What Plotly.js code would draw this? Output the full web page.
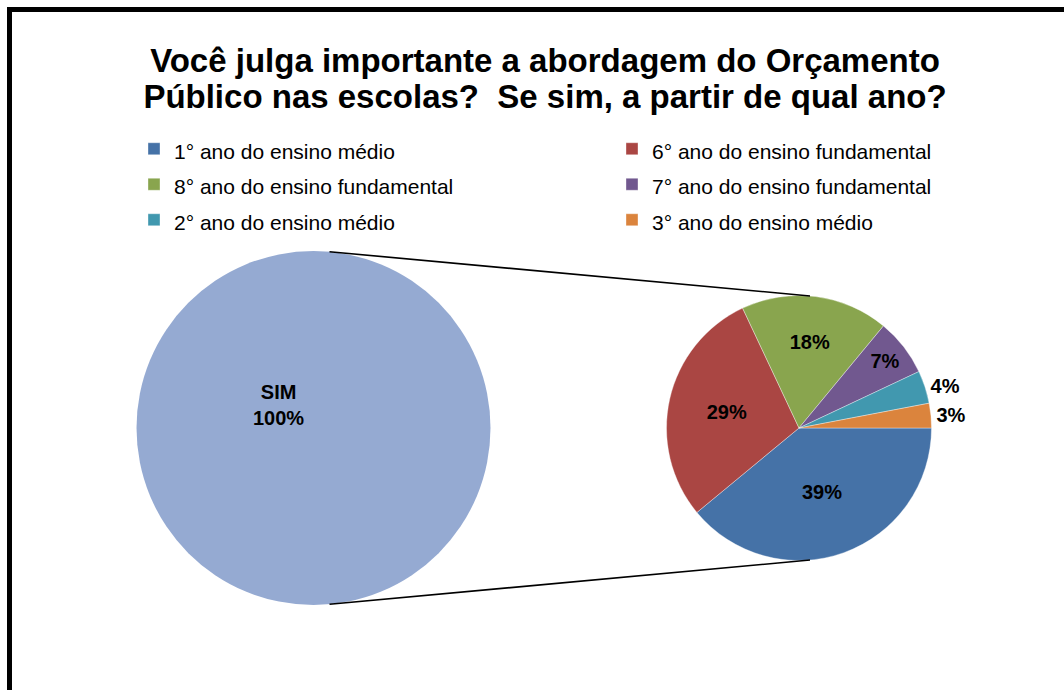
<!DOCTYPE html>
<html>
<head>
<meta charset="utf-8">
<script src="https://cdn.plot.ly/plotly-3.0.1.min.js"></script>
<style>html,body{margin:0;padding:0;background:#fff;}#chart{width:1064px;height:690px;}</style>
</head>
<body>
<div id="chart"></div>
<script>
// ---- data ----
const bigLabels = ['SIM'];
const bigValues = [100];
const bigColors = ['#95AAD2'];

const categories = [
  '1° ano do ensino médio',
  '6° ano do ensino fundamental',
  '8° ano do ensino fundamental',
  '7° ano do ensino fundamental',
  '2° ano do ensino médio',
  '3° ano do ensino médio'
];
const percentValues = [39, 29, 18, 7, 4, 3];
const sliceColors = ['#4572A7', '#AA4643', '#89A54E', '#71588F', '#4198AF', '#DB843D'];
const labelPositions = ['inside', 'inside', 'inside', 'inside', 'outside', 'outside'];

const titleLines = ['Você julga importante a abordagem do Orçamento', 'Público nas escolas?  Se sim, a partir de qual ano?'];

// ---- layout geometry (pixels) ----
const W = 1064, H = 690;
const FONT = 'Liberation Sans, Arial, sans-serif';
const big = {cx: 313.5, cy: 428, r: 177};
const small = {cx: 799, cy: 428, r: 132.5};
const px = x => x / W;
const py = y => 1 - y / H;

const bigTrace = {
  type: 'pie',
  labels: bigLabels,
  values: bigValues,
  marker: {colors: bigColors, line: {width: 0}},
  textinfo: 'none',
  hoverinfo: 'label+percent',
  showlegend: false,
  sort: false,
  domain: {x: [px(big.cx - big.r), px(big.cx + big.r)], y: [py(big.cy + big.r), py(big.cy - big.r)]}
};

const smallTrace = {
  type: 'pie',
  labels: categories.map(c => '<span style="font-size:21px">' + c + '</span>'),
  values: percentValues,
  marker: {colors: sliceColors, line: {width: 0.6, color: 'rgba(255,255,255,0.6)'}},
  sort: false,
  direction: 'clockwise',
  rotation: 90,
  textinfo: 'percent',
  textposition: labelPositions,
  insidetextorientation: 'horizontal',
  textfont: {family: FONT, size: 20, color: '#000', weight: 'bold'},
  insidetextfont: {family: FONT, size: 20, color: '#000', weight: 'bold'},
  outsidetextfont: {family: FONT, size: 20, color: '#000', weight: 'bold'},
  hoverinfo: 'label+percent',
  domain: {x: [px(small.cx - 200), px(small.cx + 200)], y: [py(small.cy + small.r), py(small.cy - small.r)]}
};

// connector lines between the two pies
const joinX = small.cx + 11;
const joinDy = Math.sqrt(small.r * small.r - 11 * 11);
const bigJoinX = big.cx + 16;
const bigJoinDy = Math.sqrt(big.r * big.r - 16 * 16);
const shapes = [
  {type: 'line', xref: 'paper', yref: 'paper',
   x0: px(bigJoinX), y0: py(big.cy - bigJoinDy), x1: px(joinX), y1: py(small.cy - joinDy),
   line: {color: '#000', width: 1.6}},
  {type: 'line', xref: 'paper', yref: 'paper',
   x0: px(bigJoinX), y0: py(big.cy + bigJoinDy), x1: px(joinX), y1: py(small.cy + joinDy),
   line: {color: '#000', width: 1.6}},
  {type: 'rect', xref: 'paper', yref: 'paper',
   x0: px(9.5), y0: py(9.5), x1: px(W + 20), y1: py(H + 20),
   line: {color: '#000', width: 5}, fillcolor: 'rgba(0,0,0,0)', layer: 'above'}
];

const annotations = [{
  xref: 'paper', yref: 'paper', x: px(278), y: py(405), xanchor: 'center', yanchor: 'middle',
  text: '<b>' + bigLabels[0] + '<br>' + bigValues[0] + '%</b>',
  showarrow: false, font: {family: FONT, size: 20, color: '#000'}, align: 'center'
}];

const layout = {
  width: W, height: H,
  margin: {l: 0, r: 0, t: 0, b: 0, autoexpand: false},
  paper_bgcolor: '#fff',
  font: {family: FONT, color: '#000'},
  title: {
    text: titleLines.map(t => '<span style="font-size:33px">' + t + '</span>').join('<br>'),
    x: px(545), xanchor: 'center', xref: 'paper',
    y: 1 - 72 / H, yanchor: 'middle', yref: 'container',
    font: {family: FONT, size: 28, color: '#000', weight: 'bold'}
  },
  legend: {
    orientation: 'h', x: px(134), xanchor: 'left', y: py(126), yanchor: 'top',
    entrywidth: 433, entrywidthmode: 'pixels', traceorder: 'normal',
    font: {family: FONT, size: 25, color: '#000'}, bgcolor: 'rgba(0,0,0,0)'
  },
  shapes: shapes,
  annotations: annotations,
  showlegend: true
};

Plotly.newPlot('chart', [bigTrace, smallTrace], layout, {displayModeBar: false, staticPlot: true});
</script>
</body>
</html>
